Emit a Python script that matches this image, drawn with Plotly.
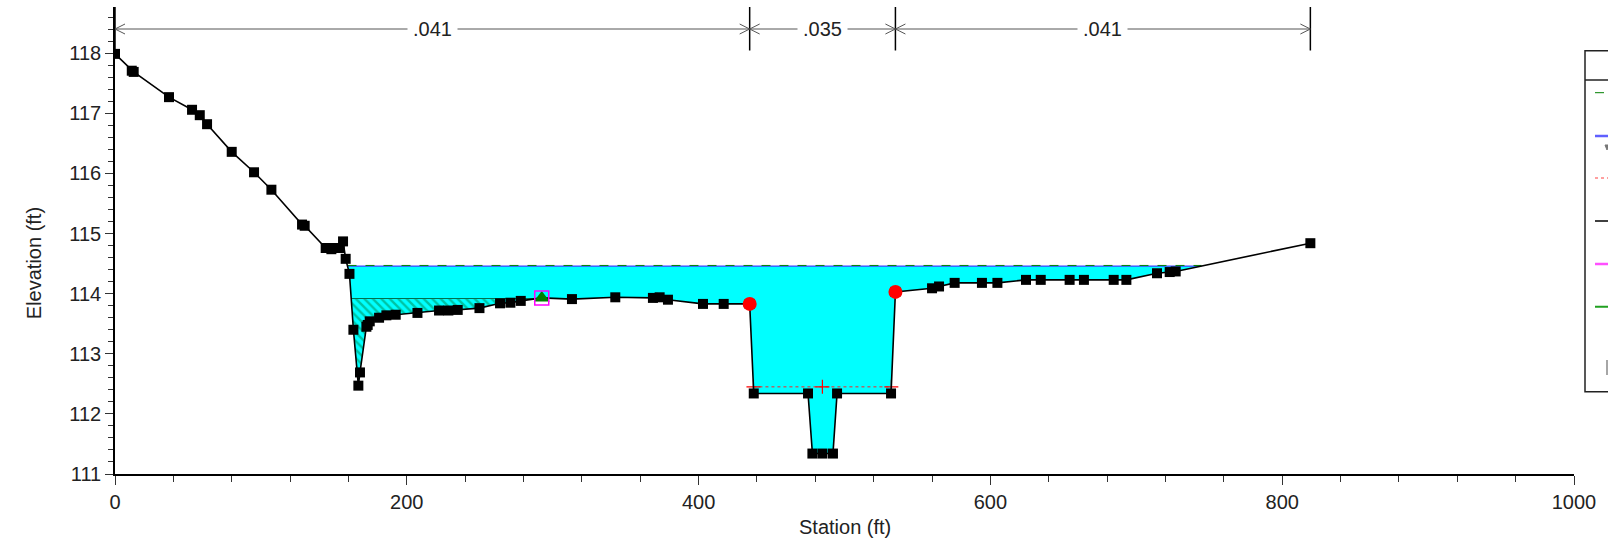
import plotly.graph_objects as go

# ---------------- data ----------------
station = [0, 11.5, 12.8, 37.0, 52.8, 58.1, 63.1, 80.0, 95.3, 107.2,
           128.2, 130.0, 144.4, 148.3, 150.1, 154.0, 156.3, 158.1, 160.7, 163.4,
           166.8, 167.9, 172.3, 173.2, 174.6, 181.0, 186.0, 192.4, 207.3, 222.1,
           228.5, 234.9, 249.8, 263.9, 271.0, 278.1, 292.5, 313.2, 342.9, 368.7,
           373.3, 379.0, 403.0, 417.2, 435.0, 437.8, 475.0, 478.0, 484.9, 492.1,
           494.9, 531.9, 534.9, 560.0, 564.8, 575.5, 594.2, 604.8, 624.4, 634.5,
           654.3, 664.1, 684.5, 693.2, 714.2, 722.9, 727.0, 819.3]
elevation = [117.99, 117.71, 117.69, 117.27, 117.06, 116.97, 116.82, 116.36, 116.02, 115.73,
             115.15, 115.13, 114.76, 114.74, 114.76, 114.76, 114.87, 114.58, 114.33, 113.40,
             112.47, 112.69, 113.45, 113.48, 113.54, 113.60, 113.64, 113.65, 113.68, 113.72,
             113.72, 113.73, 113.76, 113.84, 113.85, 113.88, 113.93, 113.91, 113.94, 113.93,
             113.94, 113.90, 113.83, 113.83, 113.83, 112.34, 112.34, 111.34, 111.34, 111.34,
             112.34, 112.34, 114.03, 114.09, 114.12, 114.18, 114.18, 114.18, 114.23, 114.23,
             114.23, 114.23, 114.23, 114.23, 114.34, 114.36, 114.37, 114.84]

ws_elev = 114.46
eg_elev = 114.47
crit_elev = 112.45
ineff_elev = 113.92
ineff_station = 292.5
bank_stations = [435.0, 534.9]
n_breaks = [0.0, 435.0, 534.9, 819.3]
n_labels = [".041", ".035", ".041"]
x_ticks = [0, 200, 400, 600, 800, 1000]
y_ticks = [111, 112, 113, 114, 115, 116, 117, 118]

# ---------------- geometry helpers ----------------
W, H = 1608, 557
ML, MR, MT, MB = 115, 34, 7, 83
XR = [0, 1000]
YR = [111, 118.77]
PW = W - ML - MR
PH = H - MT - MB
FONT = "Liberation Sans, Arial, sans-serif"


def dx(p):
    return p * (XR[1] - XR[0]) / PW


def dy(p):
    return p * (YR[1] - YR[0]) / PH


def pxx(p):
    return (p - ML) / PW


def pxy(p):
    return (H - MB - p) / PH


def crossings(level, lo=-1e9, hi=1e9):
    out = []
    for i in range(len(station) - 1):
        x0, y0, x1, y1 = station[i], elevation[i], station[i + 1], elevation[i + 1]
        if (y0 - level) * (y1 - level) < 0:
            t = (level - y0) / (y1 - y0)
            xc = x0 + t * (x1 - x0)
            if lo <= xc <= hi:
                out.append((i, xc))
    return out


def region(level, lo=-1e9, hi=1e9):
    c = crossings(level, lo, hi)
    (il, xl), (ir, xr) = c[0], c[-1]
    xs = [xl] + station[il + 1:ir + 1] + [xr]
    ys = [level] + elevation[il + 1:ir + 1] + [level]
    return xs, ys, xl, xr


fig = go.Figure()

# water area
wx, wy, ws_l, ws_r = region(ws_elev)
fig.add_trace(go.Scatter(x=wx, y=wy, fill="toself", fillcolor="#00FFFF",
                         line=dict(width=0), mode="lines", hoverinfo="skip"))

# ineffective flow area (hatched)
ix, iy, in_l, in_r = region(ineff_elev, hi=ineff_station)
fig.add_trace(go.Scatter(x=ix, y=iy, fill="toself", fillcolor="#00FFFF",
                         fillpattern=dict(shape="\\", fgcolor="#008848", bgcolor="#00FFFF",
                                          size=6, solidity=0.4),
                         line=dict(width=0), mode="lines", hoverinfo="skip"))
fig.add_trace(go.Scatter(x=[in_l, in_r], y=[ineff_elev, ineff_elev], mode="lines",
                         line=dict(color="#007050", width=1.2), hoverinfo="skip"))

# water surface and energy grade
fig.add_trace(go.Scatter(x=[ws_l, ws_r], y=[ws_elev, ws_elev], mode="lines",
                         line=dict(color="#4040FF", width=1.2)))
fig.add_trace(go.Scatter(x=[ws_l, ws_r], y=[eg_elev, eg_elev], mode="lines",
                         line=dict(color="#008000", width=1, dash="dash")))

# critical depth
cc = crossings(crit_elev, bank_stations[0], bank_stations[1])
cl, cr = cc[0][1], cc[-1][1]
fig.add_trace(go.Scatter(x=[cl, cr], y=[crit_elev, crit_elev], mode="lines",
                         line=dict(color="#FF2020", width=1, dash="dot")))
fig.add_trace(go.Scatter(x=[cl, (cl + cr) / 2, cr], y=[crit_elev] * 3, mode="markers",
                         marker=dict(symbol="cross-thin", size=10,
                                     line=dict(color="#FF0000", width=1.2))))

# ground
gsizes = [0 if s == ineff_station else 10 for s in station]
fig.add_trace(go.Scatter(x=station, y=elevation, mode="lines+markers",
                         line=dict(color="black", width=1.6),
                         marker=dict(symbol="square", size=gsizes, color="black", opacity=1,
                                     line=dict(width=0))))

# bank stations
bank_elev = [elevation[station.index(b)] for b in bank_stations]
fig.add_trace(go.Scatter(x=bank_stations, y=bank_elev, mode="markers",
                         marker=dict(symbol="circle", size=14, color="#FF0000",
                                     line=dict(width=0))))

# ineffective flow marker and levee box
ineff_ground = elevation[station.index(ineff_station)]
fig.add_trace(go.Scatter(x=[ineff_station], y=[ineff_ground], mode="markers",
                         marker=dict(symbol="triangle-up", size=14, color="#008000",
                                     line=dict(width=0))))
fig.add_trace(go.Scatter(x=[ineff_station], y=[ineff_ground], mode="markers",
                         marker=dict(symbol="square-open", size=14, color="#FF00FF",
                                     line=dict(width=1.5, color="#FF00FF"))))

# ---------------- Manning's n dimension lines ----------------
shapes = []
annotations = []
ydim = YR[1] - dy(22)
grey = "#555555"
shapes.append(dict(type="line", xref="x", yref="y", x0=n_breaks[0], x1=n_breaks[-1],
                   y0=ydim, y1=ydim, line=dict(color=grey, width=1)))
for b in n_breaks:
    shapes.append(dict(type="line", xref="x", yref="y", x0=b, x1=b,
                       y0=YR[1] - dy(43.5), y1=YR[1], line=dict(color="black", width=1.5)))
ax_, ay_ = dx(10), dy(5)
for a, b in zip(n_breaks[:-1], n_breaks[1:]):
    shapes.append(dict(type="path", xref="x", yref="y",
                       path=f"M {a+ax_},{ydim+ay_} L {a},{ydim} L {a+ax_},{ydim-ay_}",
                       line=dict(color=grey, width=1)))
    shapes.append(dict(type="path", xref="x", yref="y",
                       path=f"M {b-ax_},{ydim+ay_} L {b},{ydim} L {b-ax_},{ydim-ay_}",
                       line=dict(color=grey, width=1)))
for a, b, lab in zip(n_breaks[:-1], n_breaks[1:], n_labels):
    annotations.append(dict(x=(a + b) / 2, y=ydim, xref="x", yref="y", text=lab,
                            showarrow=False, bgcolor="white", borderpad=5,
                            font=dict(family=FONT, size=20, color="#222")))

# ---------------- legend box (cut off at the right edge in the reference) ----------------
shapes.append(dict(type="rect", xref="paper", yref="paper", x0=pxx(1585), x1=pxx(1760),
                   y0=pxy(391.7), y1=pxy(50.7), line=dict(color="#222", width=1.5),
                   fillcolor="white", layer="above"))
shapes.append(dict(type="line", xref="paper", yref="paper", x0=pxx(1585), x1=pxx(1760),
                   y0=pxy(80), y1=pxy(80), line=dict(color="#222", width=1.5)))
leg_rows = [92.7, 136, 178, 221, 264, 306.7]
leg_styles = [("#008000", "dash", 1), ("#6060FF", "solid", 2.5), ("#FF4040", "dot", 1),
              ("black", "solid", 1.5), ("#FF50FF", "solid", 2.5), ("#20A020", "solid", 2)]
for r, (c, d, w) in zip(leg_rows, leg_styles):
    shapes.append(dict(type="line", xref="paper", yref="paper", x0=pxx(1595), x1=pxx(1630),
                       y0=pxy(r), y1=pxy(r), line=dict(color=c, dash=d, width=w)))
shapes.append(dict(type="path", xref="paper", yref="paper",
                   path=f"M {pxx(1605)},{pxy(145)} L {pxx(1609)},{pxy(145)} L {pxx(1607)},{pxy(150)} Z",
                   fillcolor="#777", line=dict(color="#777", width=1)))
shapes.append(dict(type="line", xref="paper", yref="paper", x0=pxx(1607), x1=pxx(1607),
                   y0=pxy(360), y1=pxy(375), line=dict(color="#888", width=1.5)))

# axis titles
annotations.append(dict(x=pxx(21.7), y=pxy(263.5), xref="paper", yref="paper",
                        text="Elevation (ft)", textangle=-90, showarrow=False,
                        font=dict(family=FONT, size=20, color="#222")))
annotations.append(dict(x=pxx(845), y=pxy(540), xref="paper", yref="paper",
                        text="Station (ft)", showarrow=False,
                        font=dict(family=FONT, size=20, color="#222")))

fig.update_layout(
    width=W, height=H, autosize=False,
    margin=dict(l=ML, r=MR, t=MT, b=MB),
    paper_bgcolor="white", plot_bgcolor="white",
    showlegend=False,
    font=dict(family=FONT, size=20, color="#222"),
    shapes=shapes, annotations=annotations,
    xaxis=dict(range=XR, tickvals=x_ticks, ticks="outside", ticklen=9, tickwidth=1,
               tickcolor="#333", showline=True, linecolor="black", linewidth=1.5,
               showgrid=False, zeroline=False, tickfont=dict(size=20, family=FONT, color="#222"),
               minor=dict(dtick=40, tick0=0, ticks="outside", ticklen=6, tickcolor="#333",
                          showgrid=False)),
    yaxis=dict(range=YR, tickvals=y_ticks, ticks="outside", ticklen=8, tickwidth=1,
               tickcolor="#333", showline=True, linecolor="black", linewidth=1.5,
               showgrid=False, zeroline=False, tickfont=dict(size=20, family=FONT, color="#222"),
               minor=dict(dtick=0.2, tick0=111, ticks="outside", ticklen=5, tickcolor="#333",
                          showgrid=False)),
)

fig.write_html("out.html", config={"displayModeBar": False},
               post_script="document.body.style.margin='0px';document.body.style.overflow='hidden';")
